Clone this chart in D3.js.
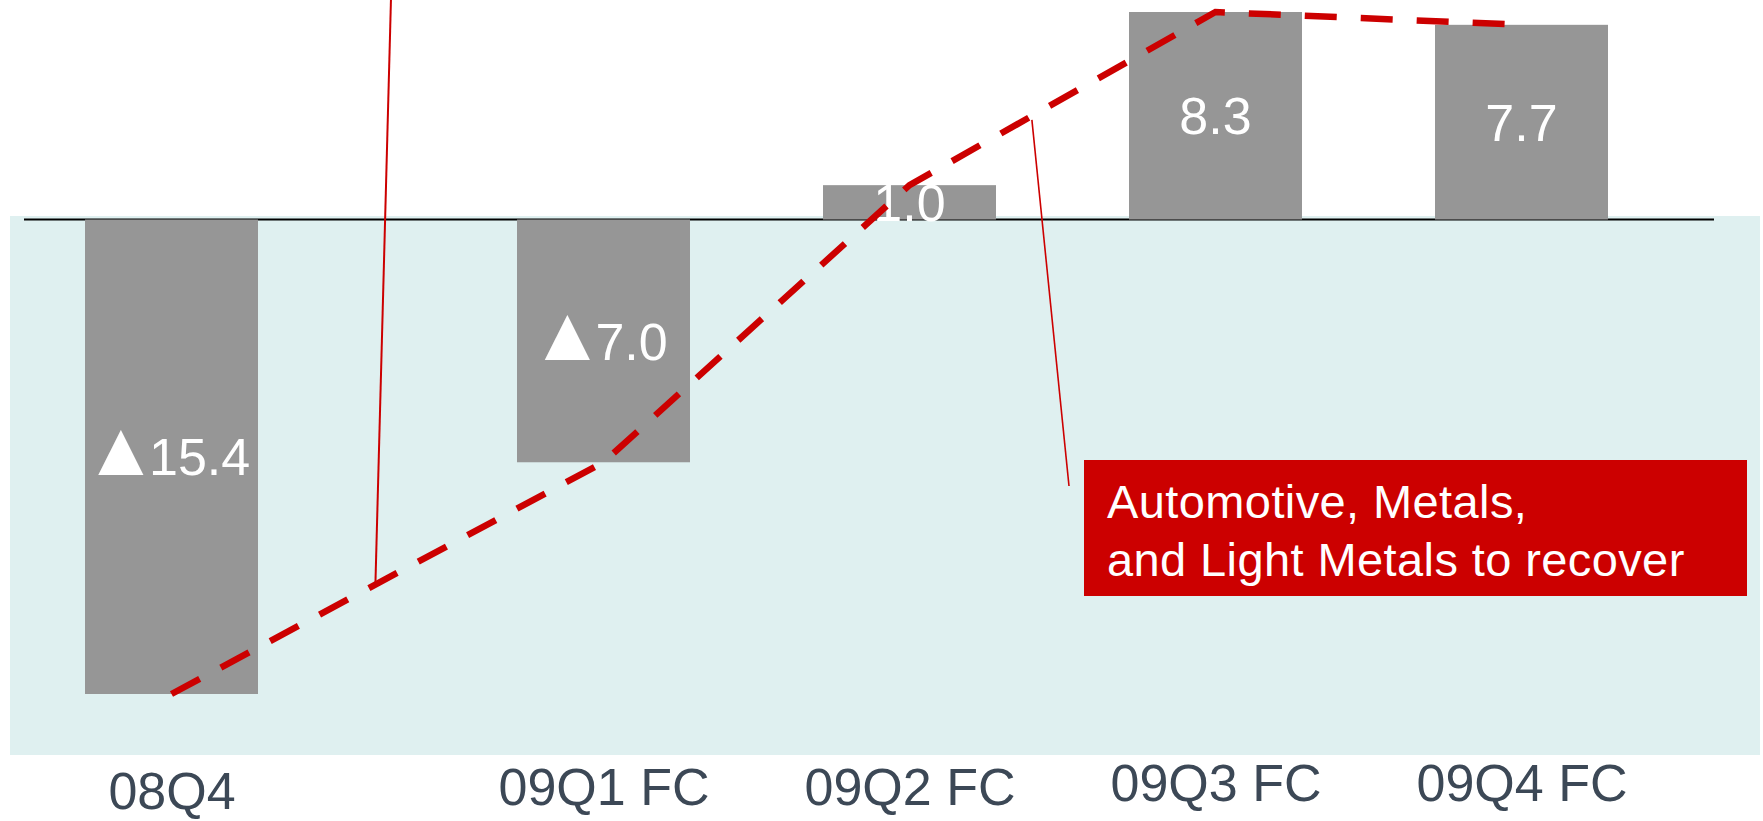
<!DOCTYPE html>
<html>
<head>
<meta charset="utf-8">
<script src="https://cdn.jsdelivr.net/npm/d3@7"></script>
<style>
  html, body { margin: 0; padding: 0; background: #ffffff; }
  svg { display: block; }
  text { font-family: "Liberation Sans", Arial, Helvetica, sans-serif; }
</style>
</head>
<body>
<script>
// ---- data ----
const categories = ["08Q4", "09Q1 FC", "09Q2 FC", "09Q3 FC", "09Q4 FC"];
const values = [-15.4, -7.0, 1.0, 8.3, 7.7];
const valueLabels = ["▲15.4", "▲7.0", "1.0", "8.3", "7.7"];
const annotationLines = ["Automotive, Metals,", "and Light Metals to recover"];

// ---- layout ----
const W = 1763, H = 821;
const barWidth = 173;
const labelOffsets = [4, 0, 0, -4, -4];

const svg = d3.select("body").append("svg").attr("width", W).attr("height", H);

const x = d3.scaleLinear().domain([0, 1, categories.length - 1]).range([171.5, 603.5, 1521.5]);
const y = d3.scalePow().exponent(0.85)
  .domain([d3.min(values), 0, d3.max(values)])
  .range([694, 219.5, 12]);

// background panel
svg.append("rect").attr("x", 10).attr("y", 216).attr("width", 1750).attr("height", 539)
  .attr("fill", "#dff0f0");

// baseline
svg.append("line").attr("x1", 24).attr("x2", 1714).attr("y1", y(0)).attr("y2", y(0))
  .attr("stroke", "#000").attr("stroke-width", 2.2);

// bars
svg.append("g").selectAll("rect").data(values).join("rect")
  .attr("x", (d, i) => x(i) - barWidth / 2)
  .attr("width", barWidth)
  .attr("y", d => Math.min(y(d), y(0)))
  .attr("height", d => Math.abs(y(d) - y(0)))
  .attr("fill", "#969696");

// value labels (▲ marks negative values)
const vl = svg.append("g").selectAll("text").data(values).join("text")
  .attr("x", (d, i) => x(i) - (valueLabels[i].startsWith("▲") ? 5 : 0))
  .attr("y", d => (y(d) + y(0)) / 2)
  .attr("dy", "0.36em")
  .attr("text-anchor", "middle")
  .attr("fill", "#ffffff")
  .attr("font-size", 52);
vl.each(function(d, i) {
  const t = d3.select(this);
  const s = valueLabels[i];
  if (s.startsWith("▲")) {
    t.append("tspan").attr("font-size", 77).text("▲");
    t.append("tspan").attr("dx", -10).text(s.slice(1));
  } else {
    t.text(s);
  }
});

// dashed trend line through bar ends
const pts = values.map((d, i) => [x(i), y(d)]);
svg.append("path").datum(pts)
  .attr("d", d3.line())
  .attr("fill", "none")
  .attr("stroke", "#cc0000")
  .attr("stroke-width", 6.5)
  .attr("stroke-dasharray", "32,24");

// leader lines
const along = (a, b, t) => [a[0] + (b[0] - a[0]) * t, a[1] + (b[1] - a[1]) * t];
const l1 = along(pts[0], pts[1], 0.472);
svg.append("line").attr("x1", 391).attr("y1", -2).attr("x2", l1[0]).attr("y2", l1[1])
  .attr("stroke", "#cc0000").attr("stroke-width", 2);
const l2 = along(pts[2], pts[3], 0.40);
svg.append("line").attr("x1", l2[0]).attr("y1", l2[1] + 4).attr("x2", 1069).attr("y2", 486)
  .attr("stroke", "#cc0000").attr("stroke-width", 1.6);

// annotation box
svg.append("rect").attr("x", 1084).attr("y", 460).attr("width", 663).attr("height", 136)
  .attr("fill", "#cc0000");
svg.append("g").selectAll("text").data(annotationLines).join("text")
  .attr("x", 1107)
  .attr("y", (d, i) => 518 + i * 58)
  .attr("fill", "#ffffff")
  .attr("font-size", 47)
  .attr("letter-spacing", 0.4)
  .text(d => d);

// category axis
const axis = d3.axisBottom(x)
  .tickValues(d3.range(categories.length))
  .tickFormat(i => categories[i])
  .tickSize(0)
  .tickPadding(0);
const gAxis = svg.append("g").attr("transform", "translate(0,805)").call(axis);
gAxis.select(".domain").remove();
gAxis.selectAll(".tick text")
  .attr("dy", (i) => labelOffsets[i])
  .attr("y", 0)
  .attr("font-size", 52)
  .attr("font-family", "\"Liberation Sans\", Arial, Helvetica, sans-serif")
  .attr("fill", "#3c4856");
</script>
</body>
</html>
